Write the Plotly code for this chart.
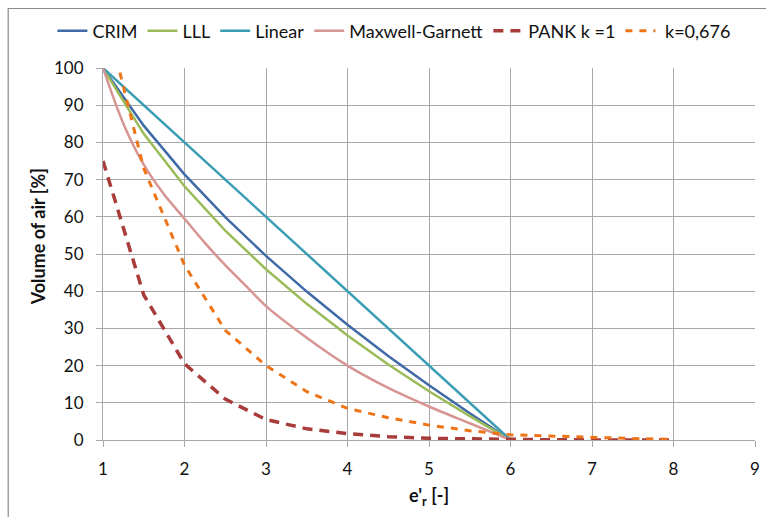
import plotly.graph_objects as go

# ---- data ----
eps_models = [1, 1.5, 2, 2.5, 3, 3.5, 4, 4.5, 5, 5.5, 6]
crim = [100, 84.5, 71.4, 59.9, 49.5, 39.9, 31.0, 22.6, 14.7, 7.2, 0]
lll = [100, 82.3, 68.2, 56.3, 45.9, 36.6, 28.1, 20.3, 13.1, 6.4, 0]
linear = [100, 90, 80, 70, 60, 50, 40, 30, 20, 10, 0]

eps_mg = [1, 1.25, 1.5, 1.75, 2, 2.25, 2.5, 2.75, 3, 3.5, 4, 4.5, 5, 5.5, 6]
maxwell_garnett = [100, 85, 74, 66, 59.5, 53, 47, 41.5, 36, 27.5, 20, 14, 9, 4.5, 0]

eps_pank = [1, 1.5, 2, 2.5, 3, 3.5, 4, 4.5, 5, 5.5, 6, 6.5, 7, 7.5, 8]
pank_k1 = [75, 39, 20.5, 11, 5.5, 3.0, 1.7, 0.9, 0.45, 0.25, 0.12, 0.06, 0.03, 0.01, 0]
pank_k0676 = [117, 73, 47, 29.5, 20, 13, 8.5, 6, 4, 2.5, 1.4, 1.0, 0.7, 0.4, 0.2]

series_names = ["CRIM", "LLL", "Linear", "Maxwell-Garnett", "PANK k =1", " k=0,676"]
colors = ["#3f6aa6", "#9bbb59", "#3b9db3", "#d69592", "#a83c3a", "#ee7418"]

x_ticks = [1, 2, 3, 4, 5, 6, 7, 8, 9]
y_ticks = [0, 10, 20, 30, 40, 50, 60, 70, 80, 90, 100]

FONT = "Lato, 'Open Sans', sans-serif"

fig = go.Figure()
fig.add_trace(go.Scatter(x=eps_models, y=crim, name=series_names[0], mode="lines",
                         line=dict(color=colors[0], width=2.5)))
fig.add_trace(go.Scatter(x=eps_models, y=lll, name=series_names[1], mode="lines",
                         line=dict(color=colors[1], width=2.5)))
fig.add_trace(go.Scatter(x=eps_models, y=linear, name=series_names[2], mode="lines",
                         line=dict(color=colors[2], width=2.5)))
fig.add_trace(go.Scatter(x=eps_mg, y=maxwell_garnett, name=series_names[3], mode="lines",
                         line=dict(color=colors[3], width=2.5, shape="spline", smoothing=0.8)))
fig.add_trace(go.Scatter(x=eps_pank, y=pank_k1, name=series_names[4], mode="lines",
                         line=dict(color=colors[4], width=3.5, dash="10px,7px")))
fig.add_trace(go.Scatter(x=eps_pank, y=pank_k0676, name=series_names[5], mode="lines",
                         line=dict(color=colors[5], width=3, dash="7px,7px")))

grid = "#a8a8a8"
fig.update_xaxes(range=[1, 9], tickvals=x_ticks, showgrid=True, gridcolor=grid, gridwidth=1,
                 showline=True, linecolor=grid, linewidth=1, ticks="outside", ticklen=6,
                 tickcolor=grid, zeroline=False, ticklabelstandoff=8,
                 tickfont=dict(family=FONT, size=17, color="#111"))
fig.update_yaxes(range=[0, 100], tickvals=y_ticks, showgrid=True, gridcolor=grid, gridwidth=1,
                 showline=True, linecolor=grid, linewidth=1, ticks="outside", ticklen=6,
                 tickcolor=grid, zeroline=False, ticklabelstandoff=9,
                 tickfont=dict(family=FONT, size=17, color="#111"))

fig.update_layout(
    width=766, height=517,
    margin=dict(l=103, r=6, t=68, b=77),
    paper_bgcolor="white", plot_bgcolor="white",
    font=dict(family=FONT, size=17, color="#111"),
    showlegend=True,
    legend=dict(orientation="h", xref="paper", yref="paper", x=(52 - 103) / 657, y=(440 - 31) / 372,
                xanchor="left", yanchor="middle", font=dict(family=FONT, size=18, color="#111"),
                itemwidth=30, tracegroupgap=0, bgcolor="rgba(0,0,0,0)"),
    annotations=[
        dict(text="<b>e'<sub>r</sub> [-]</b>", xref="paper", yref="paper", x=0.5, y=-0.152,
             showarrow=False, font=dict(family=FONT, size=18, color="#111"),
             xanchor="center", yanchor="middle"),
        dict(text="<b>Volume of air [%]</b>", xref="paper", yref="paper", x=-0.1005, y=0.546,
             showarrow=False, textangle=-90, font=dict(family=FONT, size=18, color="#111"),
             xanchor="center", yanchor="middle"),
    ],
    shapes=[
        dict(type="rect", xref="paper", yref="paper", x0=-0.1454, x1=1.2, y0=-0.4, y1=1.16,
             line=dict(color="#8a8a8a", width=1.2), fillcolor="rgba(0,0,0,0)", layer="below"),
    ],
)

fig.write_html("out.html")
